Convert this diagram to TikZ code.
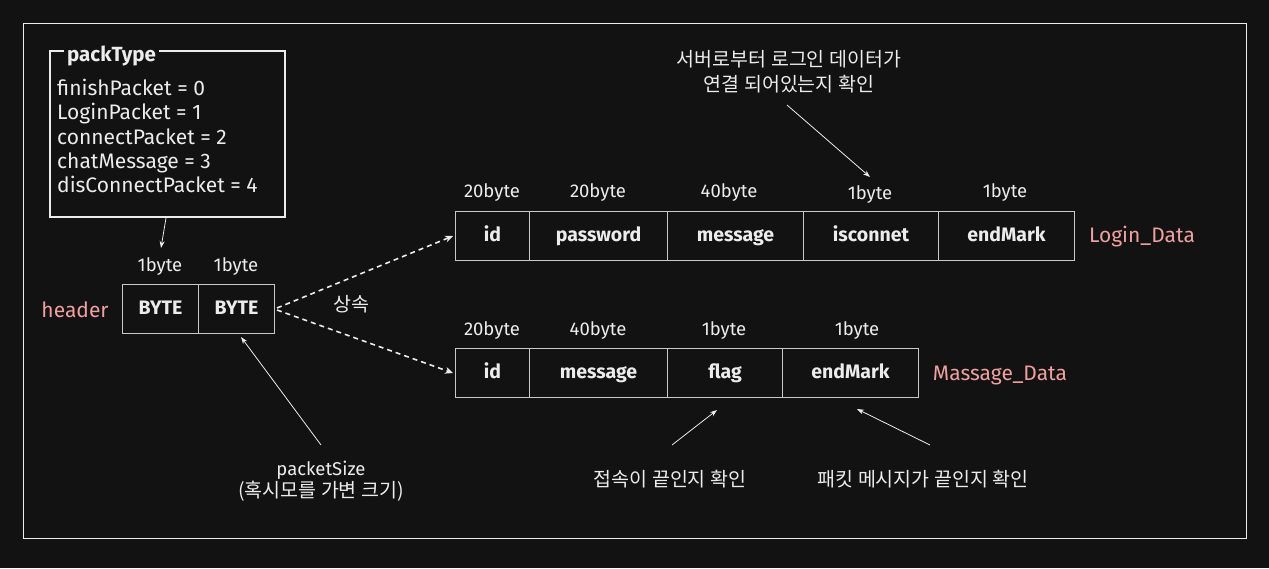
\documentclass[tikz,border=0pt]{standalone}
\usepackage{fontspec}
\setmainfont{Noto Sans CJK KR}
\newfontfamily\latfont{Fira Sans}
\usetikzlibrary{arrows.meta,calc}
\definecolor{bg}{RGB}{18,18,18}
\definecolor{fg}{RGB}{236,236,236}
\definecolor{pinkish}{RGB}{240,160,160}
\definecolor{cellline}{RGB}{200,200,200}
\tikzset{
  cell/.style={draw=cellline,line width=1pt,anchor=north west,inner sep=0pt,minimum height=49pt,text=fg,text height=14pt,text depth=4pt,font=\latfont\bfseries\fontsize{19.5}{22}\selectfont},
  sizelbl/.style={text=fg,font=\latfont\fontsize{18.5}{21}\selectfont,inner sep=0pt},
  tag/.style={text=pinkish,font=\latfont\fontsize{21}{24}\selectfont,inner sep=0pt},
  note/.style={text=fg,font=\fontsize{19.5}{25}\selectfont,align=center,inner sep=0pt},
  conn/.style={draw=fg,line width=0.8pt,-{Stealth[length=7pt,width=5pt]}},
  dconn/.style={draw=fg,line width=1.6pt,dash pattern=on 5pt off 4pt,-{Stealth[length=8pt,width=7pt]}},
}
\begin{document}
\begin{tikzpicture}[x=1pt,y=-1pt]
\fill[bg] (0,0) rectangle (1269,568);
\useasboundingbox (0,0) rectangle (1269,568);
\node[draw=fg,line width=1.2pt,minimum width=1223pt,minimum height=515pt,anchor=north west,inner sep=0pt] (frame) at (23,23) {};

% packType box
\node[draw=fg,line width=1.6pt,minimum width=235pt,minimum height=166pt,anchor=north west,inner sep=0pt] (pt) at (49,50) {};
\node[fill=bg,inner sep=3pt,anchor=west,text=fg,font=\latfont\bfseries\fontsize{20.5}{24}\selectfont] (ptitle) at (64,56) {packType};
\node[anchor=north west,align=left,text=fg,font=\latfont\fontsize{21}{24.3}\selectfont,inner sep=0pt] (plist) at (57,79) {finishPacket = 0\\LoginPacket = 1\\connectPacket = 2\\chatMessage = 3\\disConnectPacket = 4};

% header
\node[cell,minimum width=76pt] (h1) at (122,284) {BYTE};
\node[cell,minimum width=76pt] (h2) at (198,284) {BYTE};
\node[sizelbl] (h1s) at (160,267) {1byte};
\node[sizelbl] (h2s) at (236,267) {1byte};
\node[tag] (htag) at (75,310) {header};
\coordinate (ptout) at (166,218);
\coordinate (h1in) at (161,248);
\draw[conn] (ptout) -- (h1in);

% Login_Data
\node[cell,minimum width=74pt] (l1) at (455,211) {id};
\node[cell,minimum width=138pt] (l2) at (529,211) {password};
\node[cell,minimum width=136pt] (l3) at (667,211) {message};
\node[cell,minimum width=135pt] (l4) at (803,211) {isconnet};
\node[cell,minimum width=136pt] (l5) at (938,211) {endMark};
\node[sizelbl] at (492,193) {20byte};
\node[sizelbl] at (598,193) {20byte};
\node[sizelbl] at (729,193) {40byte};
\node[sizelbl] (l4s) at (870,195) {1byte};
\node[sizelbl] at (1005,193) {1byte};
\node[tag] (ltag) at (1142,237) {Login\_Data};

% Massage_Data
\node[cell,minimum width=74pt] (m1) at (455,348) {id};
\node[cell,minimum width=138pt] (m2) at (529,348) {message};
\node[cell,minimum width=115pt] (m3) at (667,348) {flag};
\node[cell,minimum width=136pt] (m4) at (782,348) {endMark};
\node[sizelbl] at (492,331) {20byte};
\node[sizelbl] at (598,331) {40byte};
\node[sizelbl] at (724,331) {1byte};
\node[sizelbl] at (857,331) {1byte};
\node[tag] (mtag) at (1000,375) {Massage\_Data};

% inheritance
\draw[dconn] ($(h2.east)+(2,-1)$) -- ($(l1.west)+(-2,0)$);
\draw[dconn] ($(h2.east)+(2,1)$) -- ($(m1.west)+(-2,0)$);
\node[note] (inh) at (351,304) {상속};

% notes
\node[note] (n1) at (789,72) {서버로부터 로그인 데이터가\\연결 되어있는지 확인};
\coordinate (n1a) at (787,105);
\coordinate (n1b) at (870,177);
\draw[conn] (n1a) -- (n1b);

\node[note,font=\fontsize{19.5}{22}\selectfont] (n2) at (321,481) {{\latfont\fontsize{18.5}{22}\selectfont packetSize}\\(혹시모를 가변 크기)};
\coordinate (n2a) at (321,445);
\coordinate (n2b) at (241,337);
\draw[conn] (n2a) -- (n2b);

\node[note] (n3) at (670,479) {접속이 끝인지 확인};
\coordinate (n3a) at (672,445);
\coordinate (n3b) at (717,410);
\draw[conn] (n3a) -- (n3b);

\node[note] (n4) at (923,479) {패킷 메시지가 끝인지 확인};
\coordinate (n4a) at (930,445);
\coordinate (n4b) at (857,409);
\draw[conn] (n4a) -- (n4b);
\end{tikzpicture}
\end{document}
